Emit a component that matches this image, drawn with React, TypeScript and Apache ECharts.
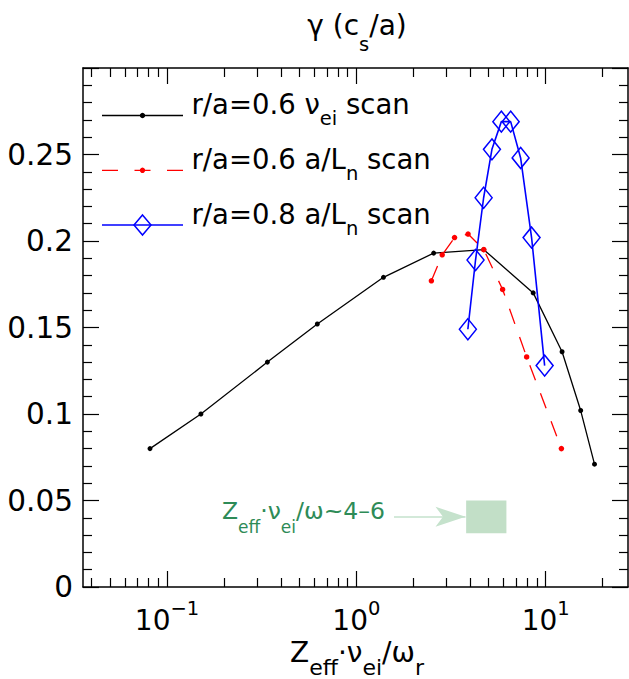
import React, { useEffect, useRef } from 'react';
import * as echarts from 'echarts';

// ---------- data ----------
const blackX = [0.0813, 0.151, 0.339, 0.622, 1.39, 2.56, 4.71, 8.59, 12.2, 15.3, 18.1];
const blackY = [0.080, 0.100, 0.130, 0.152, 0.179, 0.193, 0.195, 0.170, 0.136, 0.102, 0.071];

const redX = [2.49, 2.84, 3.30, 3.89, 4.71, 5.92, 7.93, 12.1];
const redY = [0.177, 0.192, 0.202, 0.204, 0.195, 0.172, 0.133, 0.080];

const blueX = [3.88, 4.26, 4.70, 5.20, 5.83, 6.53, 7.37, 8.42, 9.87];
const blueY = [0.149, 0.189, 0.225, 0.253, 0.269, 0.269, 0.248, 0.202, 0.128];

const xMajorTicks = [0.1, 1, 10];
const xMinorTicks = [
  0.04, 0.05, 0.06, 0.07, 0.08, 0.09,
  0.2, 0.3, 0.4, 0.5, 0.6, 0.7, 0.8, 0.9,
  2, 3, 4, 5, 6, 7, 8, 9,
  20,
];
const X_MIN = 0.036;
const X_MAX = 27.2;
const Y_MIN = 0;
const Y_MAX = 0.3;
const Y_STEP = 0.05;

// annotation (data coordinates)
const bandX = [3.8, 6.2];
const bandY = [0.031, 0.05];
const arrowX = [1.58, 3.77];
const arrowY = 0.0406;

const legendLabels = [
  '{m|r/a=0.6 ν}{s|ei}{m| scan}',
  '{m|r/a=0.6 a/L}{s|n}{m| scan}',
  '{m|r/a=0.8 a/L}{s|n}{m| scan}',
];

const FONT = 'DejaVu Sans';
const K = 0.346; // baseline offset from em-centre (DejaVu)

const pairs = (xs: number[], ys: number[]) => xs.map((x, i) => [x, ys[i]]);

// rich text with subscripts: main token top-aligned, sub token bottom-aligned
function subText(
  text: string,
  x: number,
  baseline: number,
  M: number,
  S: number,
  drop: number,
  color: string,
  align: string
) {
  const d = drop + K * M - K * S;
  const L = d + M / 2 + S / 2;
  const top = baseline - K * M - M / 2;
  return {
    type: 'text',
    x,
    y: top,
    style: {
      text,
      align,
      verticalAlign: 'top',
      textAlign: align,
      textVerticalAlign: 'top',
      fill: color,
      rich: {
        m: { fontSize: M, fontFamily: FONT, fill: color, verticalAlign: 'top', lineHeight: L },
        s: { fontSize: S, fontFamily: FONT, fill: color, verticalAlign: 'bottom', lineHeight: L },
      },
    },
  };
}

export default function App() {
  const ref = useRef<HTMLDivElement>(null);

  useEffect(() => {
    if (!ref.current) return;
    const chart = echarts.init(ref.current, null, { renderer: 'svg' });

    const lineStyleAxis = { color: '#000', width: 1.5 };
    const tickStyle = { color: '#000', width: 1.2 };

    const supFmt = (v: number) => {
      const e = Math.round(Math.log10(v));
      const s = e < 0 ? '\u2212' + -e : String(e);
      return `{b|10}{s|${s}}`;
    };

    const TM = 28;
    const TS = 19.5;

    const xBase = { type: 'log', logBase: 10, min: X_MIN, max: X_MAX, splitLine: { show: false } };

    const xAxes = [
      {
        ...xBase,
        position: 'bottom',
        axisLine: { show: true, lineStyle: lineStyleAxis },
        axisTick: { show: true, inside: true, length: 16, lineStyle: tickStyle, customValues: xMajorTicks },
        axisLabel: {
          show: true,
          customValues: xMajorTicks,
          formatter: supFmt,
          margin: 11,
          color: '#000',
          rich: {
            b: { fontSize: TM, fontFamily: FONT, color: '#000', verticalAlign: 'bottom', lineHeight: 36.8 },
            s: { fontSize: TS, fontFamily: FONT, color: '#000', verticalAlign: 'top', lineHeight: 36.8 },
          },
        },
      },
      {
        ...xBase,
        position: 'bottom',
        axisLine: { show: false },
        axisTick: { show: true, inside: true, length: 9, lineStyle: tickStyle, customValues: xMinorTicks },
        axisLabel: { show: false },
      },
      {
        ...xBase,
        position: 'top',
        axisLine: { show: true, lineStyle: lineStyleAxis },
        axisTick: { show: true, inside: true, length: 16, lineStyle: tickStyle, customValues: xMajorTicks },
        axisLabel: { show: false },
      },
      {
        ...xBase,
        position: 'top',
        axisLine: { show: false },
        axisTick: { show: true, inside: true, length: 9, lineStyle: tickStyle, customValues: xMinorTicks },
        axisLabel: { show: false },
      },
    ];

    const yBase = {
      type: 'value',
      min: Y_MIN,
      max: Y_MAX,
      interval: Y_STEP,
      splitLine: { show: false },
      axisLine: { show: true, lineStyle: lineStyleAxis },
      axisTick: { show: true, inside: true, length: 16, lineStyle: tickStyle },
      minorTick: { show: true, splitNumber: 5, length: 9, lineStyle: tickStyle },
    };

    const yAxes = [
      {
        ...yBase,
        position: 'left',
        axisLabel: {
          show: true,
          margin: 10,
          fontSize: 29.5,
          fontFamily: FONT,
          color: '#000',
          formatter: (v: number) => (v > Y_MAX - 1e-9 ? '' : String(+v.toFixed(2))),
        },
      },
      { ...yBase, position: 'right', axisLabel: { show: false } },
    ];

    const legendRowsY = [115.5, 170.3, 225];
    const legendX0 = 102;
    const legendX1 = 183;
    const legendSymX = 142.5;
    const legendTextX = 191.5;

    const graphics: any[] = [
      subText('{m|γ (c}{s|s}{m|/a)}', 357, 35.5, 28, 19.5, 16, '#000', 'center'),
      subText('{m|Z}{s|eff}{m|·ν}{s|ei}{m|/ω}{s|r}', 357, 662.5, 28, 22, 13, '#000', 'center'),
      subText('{m|Z}{s|eff}{m|·ν}{s|ei}{m|/ω~4–6}', 222, 519.3, 23.5, 17, 14, '#2e8b57', 'left'),
    ];

    // legend (drawn)
    const legendColors = ['#000000', '#ff0000', '#0000ff'];
    legendRowsY.forEach((ly, i) => {
      const lineStyle: any = { stroke: legendColors[i], lineWidth: i === 2 ? 1.6 : 1.3 };
      if (i === 1) lineStyle.lineDash = [16, 16.5];
      graphics.push({
        type: 'line',
        shape: { x1: legendX0, y1: ly, x2: legendX1, y2: ly },
        style: lineStyle,
      });
      if (i < 2) {
        graphics.push({
          type: 'circle',
          shape: { cx: legendSymX, cy: ly, r: 2.7 },
          style: { fill: legendColors[i] },
        });
      } else {
        graphics.push({
          type: 'polygon',
          shape: {
            points: [
              [legendSymX, ly - 10],
              [legendSymX + 8.5, ly],
              [legendSymX, ly + 10],
              [legendSymX - 8.5, ly],
            ],
          },
          style: { fill: 'none', stroke: legendColors[i], lineWidth: 1.5 },
        });
      }
      graphics.push(subText(legendLabels[i], legendTextX, ly - 2, 27.5, 19.5, 12, '#000', 'left'));
    });

    const option: any = {
      animation: false,
      backgroundColor: '#fff',
      textStyle: { fontFamily: FONT },
      grid: { left: 83, right: 1, top: 68, bottom: 92, containLabel: false },
      xAxis: xAxes,
      yAxis: yAxes,
      series: [
        {
          name: 'r/a=0.6 νei scan',
          type: 'line',
          data: pairs(blackX, blackY),
          symbol: 'circle',
          symbolSize: 5,
          itemStyle: { color: '#000' },
          lineStyle: { color: '#000', width: 1.3 },
          z: 2,
          markArea: {
            silent: true,
            itemStyle: { color: '#c2dfc7' },
            data: [[{ coord: [bandX[0], bandY[1]] }, { coord: [bandX[1], bandY[0]] }]],
          },
          markLine: {
            silent: true,
            symbol: ['none', 'arrow'],
            symbolSize: 20,
            label: { show: false },
            lineStyle: { color: '#c5e2cc', width: 1.6, type: 'solid', opacity: 1 },
            itemStyle: { color: '#c5e2cc' },
            data: [
              [
                { coord: [arrowX[0], arrowY], symbol: 'none' },
                { coord: [arrowX[1], arrowY], symbol: 'arrow', symbolSize: [15, 30] },
              ],
            ],
          },
        },
        {
          name: 'r/a=0.6 a/Ln scan',
          type: 'line',
          data: pairs(redX, redY),
          symbol: 'circle',
          symbolSize: 5.5,
          itemStyle: { color: '#ff0000' },
          lineStyle: { color: '#ff0000', width: 1.3, type: [16, 14] },
          z: 3,
        },
        {
          name: 'r/a=0.8 a/Ln scan',
          type: 'line',
          data: pairs(blueX, blueY),
          symbol: 'diamond',
          symbolSize: [17, 21],
          itemStyle: { color: 'rgba(0,0,0,0)', borderColor: '#0000ff', borderWidth: 1.5 },
          lineStyle: { color: '#0000ff', width: 1.6 },
          z: 4,
        },
      ],
      graphic: graphics,
    };

    chart.setOption(option);
    return () => chart.dispose();
  }, []);

  return (
    <div
      ref={ref}
      style={{ position: 'fixed', left: 0, top: 0, width: 629, height: 679, background: '#fff' }}
    />
  );
}
